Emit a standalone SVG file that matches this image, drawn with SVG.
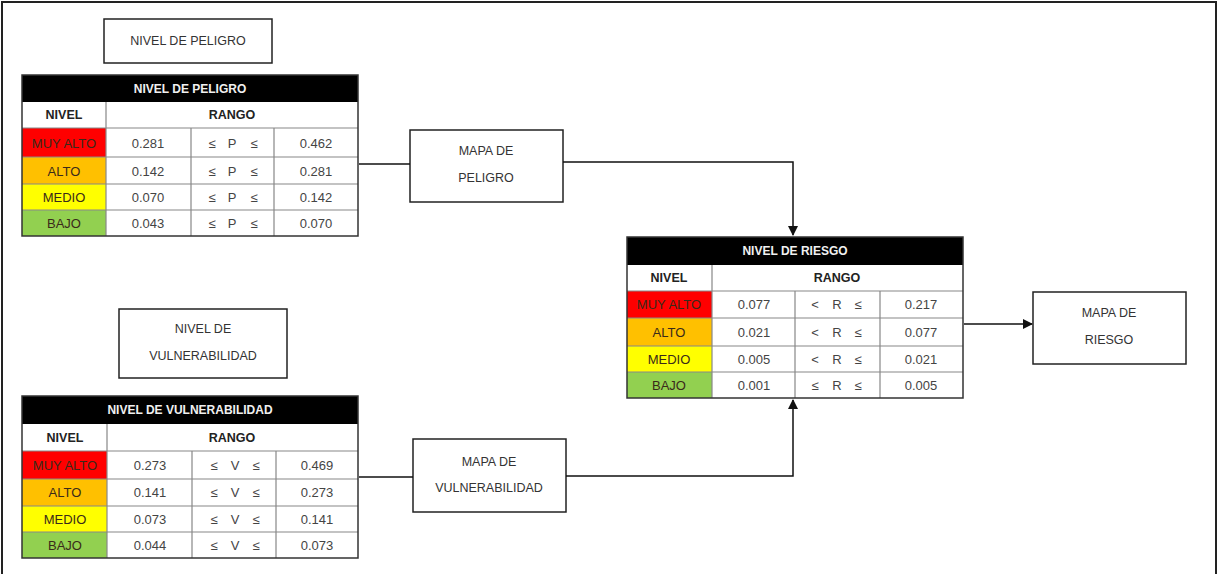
<svg xmlns="http://www.w3.org/2000/svg" width="1218" height="574" viewBox="0 0 1218 574">
<defs>
<style>
.frame{fill:#fff;stroke:#222;stroke-width:2}
.box{fill:#fff;stroke:#222;stroke-width:1.5}
.lbl{font-family:"Liberation Sans",Arial,sans-serif;font-size:12.5px;fill:#333;text-anchor:middle;dominant-baseline:central}
.hdr{fill:#000}
.ht{font-family:"Liberation Sans Narrow","Liberation Sans",Arial,sans-serif;font-size:12px;font-weight:bold;fill:#f0f0f0;text-anchor:middle;dominant-baseline:central}
.nt{font-family:"Liberation Sans Narrow","Liberation Sans",Arial,sans-serif;font-size:12.5px;font-weight:bold;fill:#222;text-anchor:middle;dominant-baseline:central}
.ct{font-family:"Liberation Sans Narrow","Liberation Sans",Arial,sans-serif;font-size:13px;fill:#444;text-anchor:middle;dominant-baseline:central}
.lv{font-family:"Liberation Sans Narrow","Liberation Sans",Arial,sans-serif;font-size:13px;fill:#3a2a1a;text-anchor:middle;dominant-baseline:central}
.grid{stroke:#888;stroke-width:1.2;fill:none}
.out{stroke:#333;stroke-width:1.5;fill:none}
.r{fill:#ff0000}.o{fill:#ffc000}.y{fill:#ffff00}.g{fill:#92d050}
.conn{stroke:#111;stroke-width:1.5;fill:none}
</style>
<marker id="arr" viewBox="0 0 10 10" refX="9" refY="5" markerWidth="11" markerHeight="10" markerUnits="userSpaceOnUse" orient="auto">
<path d="M0,0 L10,5 L0,10 z" fill="#111"/>
</marker>
</defs>
<rect x="2" y="2" width="1214" height="580" class="frame"/>

<g id="title-peligro">
<rect x="104" y="19" width="168" height="44" class="box"/>
<text x="188" y="41" class="lbl">NIVEL DE PELIGRO</text>
</g>

<g id="tabla-peligro">
<rect x="22" y="102" width="336" height="134" fill="#fff"/>
<rect x="22" y="75" width="336" height="27" class="hdr"/>
<text x="190" y="88.5" class="ht">NIVEL DE PELIGRO</text>
<rect x="22" y="128" width="84" height="29" class="r"/>
<rect x="22" y="157" width="84" height="27" class="o"/>
<rect x="22" y="184" width="84" height="26" class="y"/>
<rect x="22" y="210" width="84" height="26" class="g"/>
<path class="grid" d="M22,128H358M22,157H358M22,184H358M22,210H358M106,102V236M191,128V236M274,128V236"/>
<rect x="22" y="75" width="336" height="161" class="out"/>
<text x="64" y="115" class="nt">NIVEL</text>
<text x="232" y="115" class="nt">RANGO</text>
<text x="64" y="143" class="lv">MUY ALTO</text>
<text x="64" y="171" class="lv">ALTO</text>
<text x="64" y="197" class="lv">MEDIO</text>
<text x="64" y="223" class="lv">BAJO</text>
<text x="148" y="143" class="ct">0.281</text><text x="212" y="143" class="ct">≤</text><text x="232" y="143" class="ct">P</text><text x="254" y="143" class="ct">≤</text><text x="316" y="143" class="ct">0.462</text>
<text x="148" y="171" class="ct">0.142</text><text x="212" y="171" class="ct">≤</text><text x="232" y="171" class="ct">P</text><text x="254" y="171" class="ct">≤</text><text x="316" y="171" class="ct">0.281</text>
<text x="148" y="197" class="ct">0.070</text><text x="212" y="197" class="ct">≤</text><text x="232" y="197" class="ct">P</text><text x="254" y="197" class="ct">≤</text><text x="316" y="197" class="ct">0.142</text>
<text x="148" y="223" class="ct">0.043</text><text x="212" y="223" class="ct">≤</text><text x="232" y="223" class="ct">P</text><text x="254" y="223" class="ct">≤</text><text x="316" y="223" class="ct">0.070</text>
</g>

<g id="title-vulnerabilidad">
<rect x="119" y="309" width="168" height="69" class="box"/>
<text x="203" y="329" class="lbl">NIVEL DE</text>
<text x="203" y="356" class="lbl">VULNERABILIDAD</text>
</g>

<g id="tabla-vulnerabilidad">
<rect x="22" y="424" width="336" height="134" fill="#fff"/>
<rect x="22" y="396" width="336" height="28" class="hdr"/>
<text x="190" y="410" class="ht">NIVEL DE VULNERABILIDAD</text>
<rect x="22" y="451" width="85" height="28" class="r"/>
<rect x="22" y="479" width="85" height="27" class="o"/>
<rect x="22" y="506" width="85" height="26" class="y"/>
<rect x="22" y="532" width="85" height="26" class="g"/>
<path class="grid" d="M22,451H358M22,479H358M22,506H358M22,532H358M107,424V558M192,451V558M276,451V558"/>
<rect x="22" y="396" width="336" height="162" class="out"/>
<text x="65" y="437.5" class="nt">NIVEL</text>
<text x="232" y="437.5" class="nt">RANGO</text>
<text x="65" y="465" class="lv">MUY ALTO</text>
<text x="65" y="492.5" class="lv">ALTO</text>
<text x="65" y="519" class="lv">MEDIO</text>
<text x="65" y="545" class="lv">BAJO</text>
<text x="150" y="465" class="ct">0.273</text><text x="214" y="465" class="ct">≤</text><text x="235" y="465" class="ct">V</text><text x="256" y="465" class="ct">≤</text><text x="317" y="465" class="ct">0.469</text>
<text x="150" y="492.5" class="ct">0.141</text><text x="214" y="492.5" class="ct">≤</text><text x="235" y="492.5" class="ct">V</text><text x="256" y="492.5" class="ct">≤</text><text x="317" y="492.5" class="ct">0.273</text>
<text x="150" y="519" class="ct">0.073</text><text x="214" y="519" class="ct">≤</text><text x="235" y="519" class="ct">V</text><text x="256" y="519" class="ct">≤</text><text x="317" y="519" class="ct">0.141</text>
<text x="150" y="545" class="ct">0.044</text><text x="214" y="545" class="ct">≤</text><text x="235" y="545" class="ct">V</text><text x="256" y="545" class="ct">≤</text><text x="317" y="545" class="ct">0.073</text>
</g>

<g id="mapa-peligro">
<rect x="410" y="130" width="153" height="72" class="box"/>
<text x="486" y="151" class="lbl">MAPA DE</text>
<text x="486" y="178" class="lbl">PELIGRO</text>
</g>

<g id="mapa-vulnerabilidad">
<rect x="413" y="439" width="153" height="73" class="box"/>
<text x="489" y="462" class="lbl">MAPA DE</text>
<text x="489" y="488" class="lbl">VULNERABILIDAD</text>
</g>

<g id="tabla-riesgo">
<rect x="627" y="265" width="336" height="133" fill="#fff"/>
<rect x="627" y="237" width="336" height="28" class="hdr"/>
<text x="795" y="251" class="ht">NIVEL DE RIESGO</text>
<rect x="627" y="291" width="85" height="27" class="r"/>
<rect x="627" y="318" width="85" height="28" class="o"/>
<rect x="627" y="346" width="85" height="26" class="y"/>
<rect x="627" y="372" width="85" height="26" class="g"/>
<path class="grid" d="M627,291H963M627,318H963M627,346H963M627,372H963M712,265V398M795,291V398M880,291V398"/>
<rect x="627" y="237" width="336" height="161" class="out"/>
<text x="669" y="278" class="nt">NIVEL</text>
<text x="837" y="278" class="nt">RANGO</text>
<text x="669" y="304.5" class="lv">MUY ALTO</text>
<text x="669" y="332" class="lv">ALTO</text>
<text x="669" y="359" class="lv">MEDIO</text>
<text x="669" y="385" class="lv">BAJO</text>
<text x="754" y="304.5" class="ct">0.077</text><text x="815" y="304.5" class="ct">&lt;</text><text x="837" y="304.5" class="ct">R</text><text x="858" y="304.5" class="ct">≤</text><text x="921" y="304.5" class="ct">0.217</text>
<text x="754" y="332" class="ct">0.021</text><text x="815" y="332" class="ct">&lt;</text><text x="837" y="332" class="ct">R</text><text x="858" y="332" class="ct">≤</text><text x="921" y="332" class="ct">0.077</text>
<text x="754" y="359" class="ct">0.005</text><text x="815" y="359" class="ct">&lt;</text><text x="837" y="359" class="ct">R</text><text x="858" y="359" class="ct">≤</text><text x="921" y="359" class="ct">0.021</text>
<text x="754" y="385" class="ct">0.001</text><text x="815" y="385" class="ct">≤</text><text x="837" y="385" class="ct">R</text><text x="858" y="385" class="ct">≤</text><text x="921" y="385" class="ct">0.005</text>
</g>

<g id="mapa-riesgo">
<rect x="1033" y="292" width="153" height="72" class="box"/>
<text x="1109" y="313" class="lbl">MAPA DE</text>
<text x="1109" y="340" class="lbl">RIESGO</text>
</g>

<g id="connectors">
<path class="conn" d="M359,164H410"/>
<path class="conn" d="M563,162H793V235" marker-end="url(#arr)"/>
<path class="conn" d="M359,477H413"/>
<path class="conn" d="M566,476H793V400" marker-end="url(#arr)"/>
<path class="conn" d="M964,324H1032" marker-end="url(#arr)"/>
</g>
</svg>
